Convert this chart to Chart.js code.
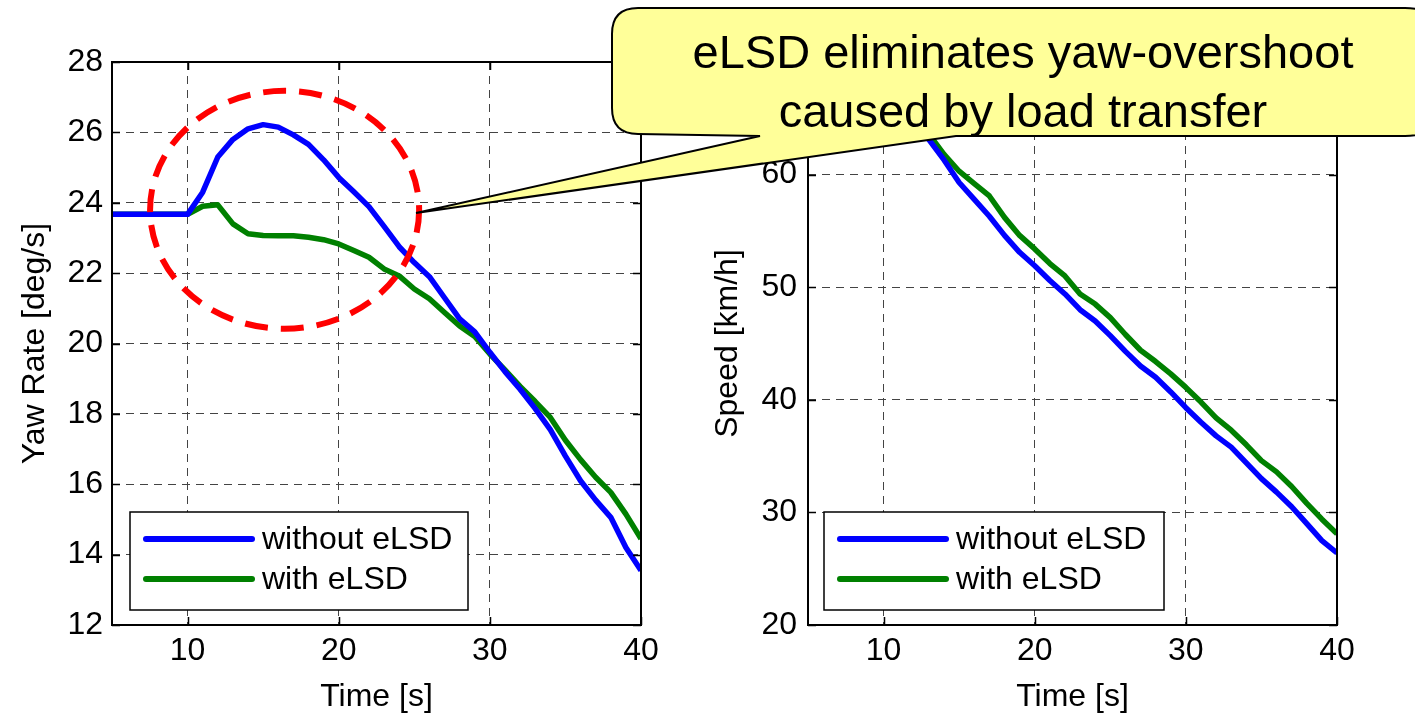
<!DOCTYPE html>
<html>
<head>
<meta charset="utf-8">
<title>eLSD yaw rate and speed</title>
<script src="https://cdn.jsdelivr.net/npm/chart.js@4.4.1/dist/chart.umd.min.js"></script>
<style>
  html, body { margin: 0; padding: 0; background: #fff; }
  #wrap { position: relative; width: 1415px; height: 716px; overflow: hidden; }
  #yawChart { position: absolute; left: 0; top: 0; }
  #speedChart { position: absolute; left: 700px; top: 0; }
  #callout { position: absolute; left: 0; top: 0; pointer-events: none; }
</style>
</head>
<body>
<div id="wrap">
  <canvas id="yawChart" width="700" height="716"></canvas>
  <canvas id="speedChart" width="715" height="716"></canvas>
  <svg id="callout" width="1415" height="716" xmlns="http://www.w3.org/2000/svg">
    <path d="M 638 8 L 1405 8 Q 1445 8 1445 48 L 1445 100 Q 1445 136 1405 136 L 956 136 L 416 213 L 760 136 L 638 134 Q 612 134 612 108 L 612 34 Q 612 8 638 8 Z"
          fill="#FFFF99" stroke="#000" stroke-width="2"/>
    <text x="1023" y="68" text-anchor="middle" font-family="'Liberation Sans', Arial, sans-serif" font-size="47">eLSD eliminates yaw-overshoot</text>
    <text x="1023" y="127" text-anchor="middle" font-family="'Liberation Sans', Arial, sans-serif" font-size="47">caused by load transfer</text>
  </svg>
</div>
<script>
// data (1 s steps)
const TIME = [5, 6, 7, 8, 9, 10, 11, 12, 13, 14, 15, 16, 17, 18, 19, 20, 21, 22, 23, 24,
              25, 26, 27, 28, 29, 30, 31, 32, 33, 34, 35, 36, 37, 38, 39, 40];

const YAW_WITHOUT = [23.67, 23.67, 23.67, 23.67, 23.67, 23.67, 24.3, 25.3, 25.8, 26.1,
                     26.22, 26.15, 25.93, 25.66, 25.22, 24.72, 24.31, 23.89, 23.33, 22.75,
                     22.3, 21.9, 21.3, 20.7, 20.33, 19.75, 19.2, 18.7, 18.15, 17.55,
                     16.8, 16.1, 15.55, 15.06, 14.2, 13.55];
const YAW_WITH = [23.67, 23.67, 23.67, 23.67, 23.67, 23.67, 23.9, 23.94, 23.4, 23.12,
                  23.07, 23.06, 23.06, 23.02, 22.95, 22.83, 22.64, 22.45, 22.12, 21.92,
                  21.55, 21.27, 20.88, 20.5, 20.2, 19.7, 19.25, 18.78, 18.35, 17.9,
                  17.25, 16.7, 16.2, 15.77, 15.15, 14.45];

const SPEED_WITHOUT = [77.5, 75.8, 74.0, 72.3, 70.5, 68.7, 66.9, 65.0, 63.1, 61.3,
                       59.3, 57.8, 56.3, 54.6, 53.1, 51.9, 50.6, 49.4, 48.0, 47.0,
                       45.7, 44.3, 43.0, 42.0, 40.7, 39.3, 38.0, 36.8, 35.8, 34.4,
                       33.0, 31.8, 30.5, 29.0, 27.5, 26.4];
const SPEED_WITH = [78.0, 76.5, 74.8, 73.0, 71.2, 69.3, 67.3, 65.3, 63.6, 61.8,
                    60.3, 59.2, 58.1, 56.2, 54.6, 53.4, 52.1, 51.0, 49.4, 48.5,
                    47.3, 45.8, 44.4, 43.4, 42.3, 41.1, 39.8, 38.4, 37.3, 36.0,
                    34.6, 33.6, 32.3, 30.8, 29.4, 28.1];

const SERIES_LABELS = ["without eLSD", "with eLSD"];
const SERIES_COLORS = ["#0000FF", "#008000"];

const TIME_TICKS = [10, 20, 30, 40];
const YAW_TICKS = [12, 14, 16, 18, 20, 22, 24, 26, 28];
const SPEED_TICKS = [20, 30, 40, 50, 60, 70];

// red dashed ring around the overshoot, in data units (time, yaw)
const RING_CENTER = [16.42, 23.8];
const RING_RADII = [8.9, 3.38];

const FONT = "'Liberation Sans', Arial, sans-serif";

function series(ys) {
    return TIME.map((t, i) => ({ x: t, y: ys[i] }));
}

// axes box + small inward ticks like MATLAB
const framePlugin = {
    id: "frame",
    afterDatasetsDraw(chart) {
        const { ctx, chartArea: a, scales } = chart;
        ctx.save();
        ctx.strokeStyle = "#000";
        ctx.lineWidth = 1.5;
        ctx.setLineDash([]);
        ctx.beginPath();
        scales.x.ticks.forEach(t => {
            const px = Math.round(scales.x.getPixelForValue(t.value)) + 0.5;
            ctx.moveTo(px, a.bottom); ctx.lineTo(px, a.bottom - 8);
            ctx.moveTo(px, a.top); ctx.lineTo(px, a.top + 8);
        });
        scales.y.ticks.forEach(t => {
            const py = Math.round(scales.y.getPixelForValue(t.value)) + 0.5;
            ctx.moveTo(a.left, py); ctx.lineTo(a.left + 8, py);
            ctx.moveTo(a.right, py); ctx.lineTo(a.right - 8, py);
        });
        ctx.stroke();
        ctx.lineWidth = 2;
        ctx.strokeRect(a.left, a.top, a.right - a.left, a.bottom - a.top);
        ctx.restore();
    }
};

const legendBoxPlugin = {
    id: "legendBox",
    afterDatasetsDraw(chart, args, opts) {
        const { ctx, chartArea: a } = chart;
        const left = a.left + opts.dx;
        const top = a.bottom - 15 - 98;
        ctx.save();
        ctx.fillStyle = "#fff";
        ctx.fillRect(left, top, opts.width, 98);
        ctx.strokeStyle = "#000";
        ctx.lineWidth = 1.5;
        ctx.strokeRect(left, top, opts.width, 98);
        ctx.font = "32px " + FONT;
        ctx.textBaseline = "middle";
        chart.data.datasets.forEach((ds, i) => {
            const y = top + 27 + i * 40;
            ctx.strokeStyle = ds.borderColor;
            ctx.lineWidth = 6;
            ctx.lineCap = "round";
            ctx.beginPath();
            ctx.moveTo(left + 16, y);
            ctx.lineTo(left + 122, y);
            ctx.stroke();
            ctx.fillStyle = "#000";
            ctx.fillText(ds.label, left + 132, y + 1);
        });
        ctx.restore();
    }
};

const ringPlugin = {
    id: "ring",
    afterDatasetsDraw(chart, args, opts) {
        if (!opts.show) return;
        const { ctx, scales } = chart;
        const cx = scales.x.getPixelForValue(RING_CENTER[0]);
        const cy = scales.y.getPixelForValue(RING_CENTER[1]);
        const rx = scales.x.getPixelForValue(RING_CENTER[0] + RING_RADII[0]) - cx;
        const ry = cy - scales.y.getPixelForValue(RING_CENTER[1] + RING_RADII[1]);
        ctx.save();
        ctx.strokeStyle = "#FF0000";
        ctx.lineWidth = 6;
        ctx.setLineDash([23, 13]);
        ctx.beginPath();
        ctx.ellipse(cx, cy, rx, ry, 0, 0, Math.PI * 2);
        ctx.stroke();
        ctx.restore();
    }
};

function buildChart(id, cfg) {
    const gridStyle = { color: "#444", lineWidth: 1, drawTicks: false };
    const borderStyle = { display: false, dash: [8, 6] };
    return new Chart(document.getElementById(id), {
        type: "line",
        data: {
            datasets: [
                { label: SERIES_LABELS[0], data: series(cfg.without), borderColor: SERIES_COLORS[0] },
                { label: SERIES_LABELS[1], data: series(cfg.with), borderColor: SERIES_COLORS[1] },
            ].map(ds => Object.assign(ds, {
                borderWidth: 5.5,
                pointRadius: 0,
                tension: 0,
                fill: false,
                borderJoinStyle: "round",
                clip: 0,
            })),
        },
        plugins: [framePlugin, ringPlugin, legendBoxPlugin],
        options: {
            responsive: false,
            animation: false,
            devicePixelRatio: 1,
            layout: { padding: { top: 62, right: cfg.padRight, bottom: 0, left: 0 } },
            plugins: {
                legend: { display: false },
                tooltip: { enabled: false },
                ring: { show: cfg.ring },
                legendBox: { dx: cfg.legendDx, width: cfg.legendWidth },
            },
            scales: {
                x: {
                    type: "linear",
                    min: 5,
                    max: 40,
                    afterBuildTicks: s => { s.ticks = TIME_TICKS.map(v => ({ value: v })); },
                    afterFit: s => { s.height = 91; },
                    grid: gridStyle,
                    border: borderStyle,
                    ticks: { color: "#000", padding: 7, font: { family: FONT, size: 32 } },
                    title: {
                        display: true, text: "Time [s]", color: "#000",
                        font: { family: FONT, size: 32 }, padding: { top: 0, bottom: 0 },
                    },
                },
                y: {
                    type: "linear",
                    min: cfg.yTicks[0],
                    max: cfg.yTicks[cfg.yTicks.length - 1],
                    afterBuildTicks: s => { s.ticks = cfg.yTicks.map(v => ({ value: v })); },
                    afterFit: s => { s.width = cfg.axisWidth; },
                    grid: gridStyle,
                    border: borderStyle,
                    ticks: { color: "#000", padding: cfg.tickPad, font: { family: FONT, size: 32 } },
                    title: {
                        display: true, text: cfg.yTitle, color: "#000",
                        font: { family: FONT, size: 32 }, padding: { top: cfg.titlePad, bottom: 0 },
                    },
                },
            },
        },
    });
}

buildChart("yawChart", {
    without: YAW_WITHOUT, with: YAW_WITH, yTicks: YAW_TICKS,
    yTitle: "Yaw Rate [deg/s]", axisWidth: 112, padRight: 59,
    tickPad: 9, titlePad: 16, ring: true, legendDx: 18, legendWidth: 338,
});

buildChart("speedChart", {
    without: SPEED_WITHOUT, with: SPEED_WITH, yTicks: SPEED_TICKS,
    yTitle: "Speed [km/h]", axisWidth: 108, padRight: 78,
    tickPad: 11, titlePad: 9, ring: false, legendDx: 16, legendWidth: 340,
});
</script>
</body>
</html>
